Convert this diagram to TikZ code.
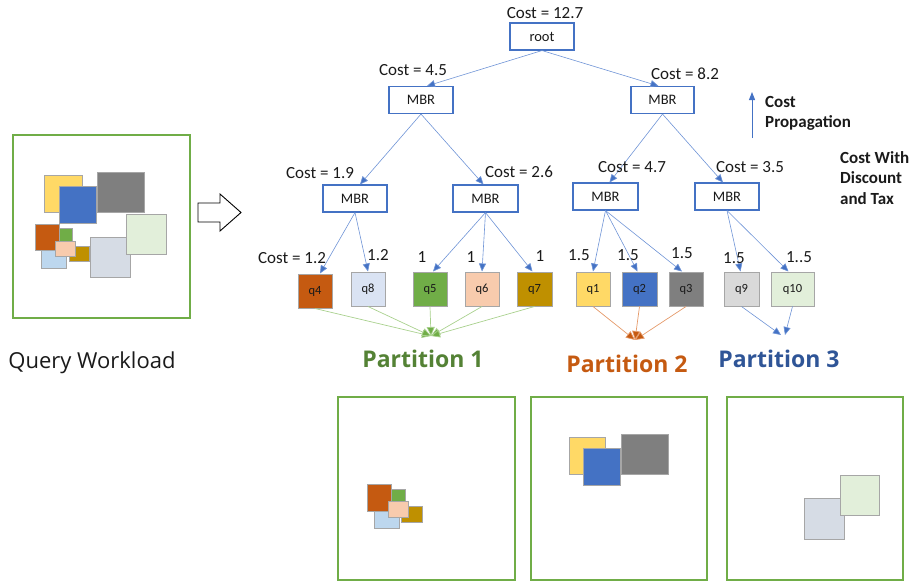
\documentclass[tikz,border=0pt]{standalone}
\usepackage{fontspec}
\setmainfont{Carlito}
\newfontfamily\osans{Open Sans}
\usetikzlibrary{arrows.meta}
\definecolor{tblue}{HTML}{4472C4}
\definecolor{lblue}{HTML}{6F94D6}
\definecolor{bgray}{HTML}{A6A6A6}
\definecolor{ggreen}{HTML}{70AD47}
\definecolor{lgreen}{HTML}{A9D18E}
\definecolor{dgreen}{HTML}{548235}
\definecolor{orng}{HTML}{C55A11}
\definecolor{lorng}{HTML}{E59A6A}
\definecolor{dblue}{HTML}{2F5597}
\definecolor{cq4}{HTML}{C55A11}
\definecolor{cq8}{HTML}{DAE3F3}
\definecolor{cq8b}{HTML}{BDD7EE}
\definecolor{cq5}{HTML}{70AD47}
\definecolor{cq6}{HTML}{F8CBAD}
\definecolor{cq7}{HTML}{BF9000}
\definecolor{cq1}{HTML}{FFD966}
\definecolor{cq2}{HTML}{4472C4}
\definecolor{cq3}{HTML}{7F7F7F}
\definecolor{cq9}{HTML}{D9D9D9}
\definecolor{cq9b}{HTML}{D6DCE5}
\definecolor{cq10}{HTML}{E2EFDA}
\definecolor{txt}{HTML}{1A1A1A}
\begin{document}
\begin{tikzpicture}[x=1pt,y=-1pt,
  treebox/.style={draw=tblue, line width=1.1pt, fill=white, inner sep=0pt,
    minimum width=64pt, minimum height=27pt, font=\fontsize{14.5}{16}\selectfont, text=txt},
  leaf/.style={draw=bgray, line width=1pt, inner sep=0pt,
    minimum width=34pt, minimum height=34pt, font=\fontsize{12.5}{14}\selectfont, text=txt},
  costlbl/.style={font=\fontsize{17}{20}\selectfont, inner sep=0pt, text=txt},
  boldlbl/.style={font=\fontsize{17}{20.5}\selectfont\bfseries, inner sep=0pt, text=txt, align=left, anchor=north west},
  tedge/.style={draw=lblue, line width=0.6pt, -{Triangle[length=8pt,width=7pt,fill=tblue]}},
  gedge/.style={draw=lgreen, line width=0.7pt, -{Triangle[length=9pt,width=8pt,fill=ggreen]}},
  oedge/.style={draw=lorng, line width=0.7pt, -{Triangle[length=9pt,width=8pt,fill=orng]}},
  wrect/.style={draw=bgray, line width=1pt},
  gbox/.style={draw=ggreen, line width=2pt},
  plbl/.style={font=\osans\fontsize{23}{26}\selectfont\bfseries, inner sep=0pt}
]
\useasboundingbox (0,0) rectangle (910,584);

% ---------- query workload box ----------
\draw[gbox] (13,135) rectangle (190,318);
\draw[wrect, fill=cq1] (44,175) rectangle (82,212);
\draw[wrect, fill=cq2] (59,186) rectangle (96,223);
\draw[wrect, fill=cq3] (97,172) rectangle (144,212);
\draw[wrect, fill=cq9b] (90,237) rectangle (130,277);
\draw[wrect, fill=cq10] (126,214) rectangle (166,254);
\draw[wrect, fill=cq8b] (41,249) rectangle (66,268);
\draw[wrect, fill=cq4] (35,224) rectangle (59,250);
\draw[wrect, fill=cq5] (59,228) rectangle (72,241);
\draw[wrect, fill=cq7] (69,246) rectangle (89,261);
\draw[wrect, fill=cq6] (55,241) rectangle (75,256);
\node[font=\osans\fontsize{22}{26}\selectfont, inner sep=0pt, text=txt] (qw) at (92,363) {Query Workload};

% hollow arrow
\draw[line width=0.9pt, fill=white] (198,203) -- (220,203) -- (220,194) -- (241,212.5)
  -- (220,231) -- (220,222) -- (198,222) -- cycle;

% ---------- tree ----------
\node[treebox] (root) at (542,36.5) {root};
\node[treebox] (m1) at (421,100) {MBR};
\node[treebox, minimum width=63pt] (m2) at (662.5,100) {MBR};
\node[treebox] (m11) at (355,198.5) {MBR};
\node[treebox, minimum width=65pt] (m12) at (485.5,198.5) {MBR};
\node[treebox, minimum width=65pt] (m21) at (605.5,196.5) {MBR};
\node[treebox] (m22) at (727,196.5) {MBR};

\node[leaf, fill=cq4] (q4) at (315,291) {q4};
\node[leaf, fill=cq8] (q8) at (368,289) {q8};
\node[leaf, fill=cq5] (q5) at (430,289) {q5};
\node[leaf, fill=cq6] (q6) at (482,289) {q6};
\node[leaf, fill=cq7, minimum width=35pt] (q7) at (534.5,289) {q7};
\node[leaf, fill=cq1] (q1) at (593,289) {q1};
\node[leaf, fill=cq2, minimum width=35pt] (q2) at (639.5,289) {q2};
\node[leaf, fill=cq3] (q3) at (686,289) {q3};
\node[leaf, fill=cq9, minimum width=35pt] (q9) at (741.5,289) {q9};
\node[leaf, fill=cq10, minimum width=43pt] (q10) at (792.5,289) {q10};

% tree edges
\draw[tedge] (root.south) -- ([xshift=6pt]m1.north);
\draw[tedge] (root.south) -- ([xshift=-4pt]m2.north);
\draw[tedge] (m1.south) -- ([xshift=5pt]m11.north);
\draw[tedge] (m1.south) -- ([xshift=-2pt]m12.north);
\draw[tedge] (m2.south) -- ([xshift=4pt]m21.north);
\draw[tedge] (m2.south) -- ([xshift=-4pt]m22.north);
\draw[tedge] (m11.south) -- ([xshift=5pt]q4.north);
\draw[tedge] (m11.south) -- (q8.north);
\draw[tedge] (m12.south) -- ([xshift=3pt]q5.north);
\draw[tedge] (m12.south) -- (q6.north);
\draw[tedge] (m12.south) -- ([xshift=-2pt]q7.north);
\draw[tedge] (m21.south) -- (q1.north);
\draw[tedge] (m21.south) -- ([xshift=-2pt]q2.north);
\draw[tedge] (m21.south) -- ([xshift=-4pt]q3.north);
\draw[tedge] (m22.south) -- ([xshift=-1pt]q9.north);
\draw[tedge] (m22.south) -- ([xshift=-4pt]q10.north);

% cost labels
\node[costlbl] (c0) at (545,13) {Cost = 12.7};
\node[costlbl] (c1) at (413,70) {Cost = 4.5};
\node[costlbl] (c2) at (685,74) {Cost = 8.2};
\node[costlbl] (c11) at (320,173) {Cost = 1.9};
\node[costlbl] (c12) at (519,172) {Cost = 2.6};
\node[costlbl] (c21) at (632,167) {Cost = 4.7};
\node[costlbl] (c22) at (750,167) {Cost = 3.5};
\node[costlbl] (lq4) at (292,258) {Cost = 1.2};
\node[costlbl] (lq8) at (378,255) {1.2};
\node[costlbl] (lq5) at (422,257) {1};
\node[costlbl] (lq6) at (471,257) {1};
\node[costlbl] (lq7) at (540,256) {1};
\node[costlbl] (lq1) at (579,255) {1.5};
\node[costlbl] (lq2) at (628,255) {1.5};
\node[costlbl] (lq3) at (682,253) {1.5};
\node[costlbl] (lq9) at (734,258) {1.5};
\node[costlbl] (lq10) at (799,257) {1..5};

% cost propagation
\coordinate (cpa) at (752,138);
\coordinate (cpb) at (752,92);
\draw[draw=tblue, line width=1pt, -{Triangle[length=8pt,width=6pt]}] (cpa) -- (cpb);
\node[boldlbl] (cp) at (765,96) {Cost\\Propagation};
\node[boldlbl] (cd) at (840,151) {Cost With\\Discount\\and Tax};

% partition arrows
\coordinate (p1) at (431,336);
\coordinate (p2) at (635,340);
\coordinate (p3a) at (781,335);
\coordinate (p3b) at (785,335);
\foreach \q in {q4,q8,q5,q6,q7} \draw[gedge] (\q.south) -- (p1);
\foreach \q in {q1,q2,q3} \draw[oedge] (\q.south) -- (p2);
\draw[tedge] (q9.south) -- (p3a);
\draw[tedge] (q10.south) -- (p3b);

\node[plbl, text=dgreen] (pl1) at (423,359) {Partition 1};
\node[plbl, text=orng] (pl2) at (627,364) {Partition 2};
\node[plbl, text=dblue] (pl3) at (779,359) {Partition 3};

% ---------- partition boxes ----------
\draw[gbox] (338,397) rectangle (515,580);
\draw[wrect, fill=cq8b] (374,510) rectangle (399,528);
\draw[wrect, fill=cq4] (367,484) rectangle (391,511);
\draw[wrect, fill=cq5] (391,489) rectangle (405,502);
\draw[wrect, fill=cq7] (401,506) rectangle (422,522);
\draw[wrect, fill=cq6] (388,501) rectangle (408,517);

\draw[gbox] (531,397) rectangle (707,580);
\draw[wrect, fill=cq1] (569,437) rectangle (605,474);
\draw[wrect, fill=cq2] (583,448) rectangle (620,485);
\draw[wrect, fill=cq3] (621,434) rectangle (668,474);

\draw[gbox] (727,397) rectangle (903,580);
\draw[wrect, fill=cq9b] (804,498) rectangle (844,539);
\draw[wrect, fill=cq10] (840,475) rectangle (879,515);
\end{tikzpicture}
\end{document}
